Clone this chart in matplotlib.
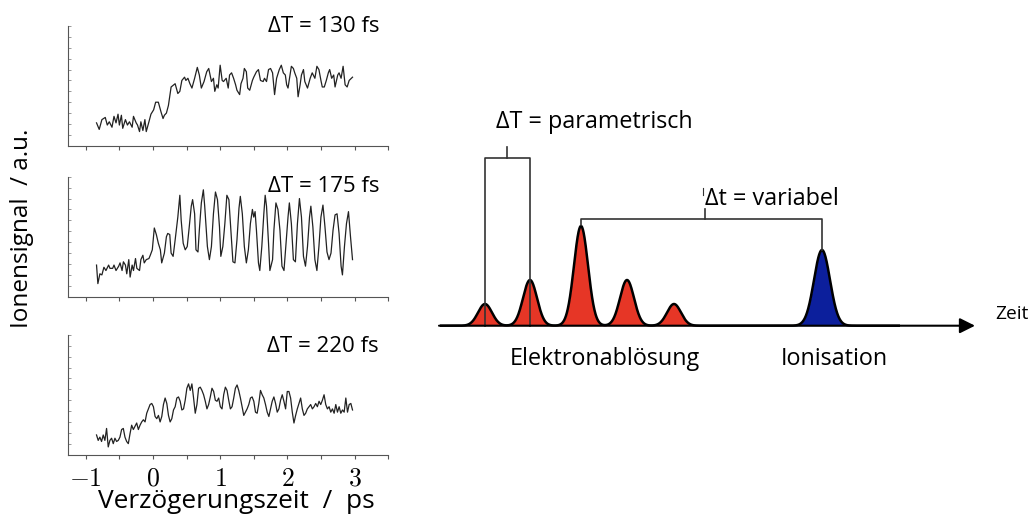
import numpy as np
import matplotlib.pyplot as plt
from matplotlib.ticker import MultipleLocator

plt.rcParams["mathtext.fontset"] = "cm"
TXT_FONT = ["Open Sans", "DejaVu Sans"]

## DATEN: Ionensignal vs. Verzögerungszeit (a.u., 0..11)

# ΔT = 130 fs
t_130 = [-0.84, -0.80, -0.76, -0.71, -0.68, -0.65, -0.61, -0.58, -0.55, -0.52,
         -0.50, -0.47, -0.45, -0.41, -0.38, -0.35, -0.31, -0.29, -0.25, -0.23,
         -0.20, -0.18, -0.15, -0.12, -0.10, -0.06, -0.03, 0.01, 0.04, 0.08,
         0.12, 0.15, 0.17, 0.20, 0.23, 0.27, 0.31, 0.33, 0.37, 0.40,
         0.43, 0.47, 0.49, 0.52, 0.55, 0.58, 0.62, 0.66, 0.69, 0.72,
         0.76, 0.80, 0.83, 0.87, 0.90, 0.92, 0.95, 0.97, 1.00, 1.03,
         1.05, 1.09, 1.12, 1.14, 1.17, 1.20, 1.23, 1.25, 1.29, 1.31,
         1.34, 1.36, 1.39, 1.41, 1.44, 1.48, 1.50, 1.54, 1.57, 1.60,
         1.64, 1.66, 1.69, 1.72, 1.75, 1.78, 1.81, 1.84, 1.88, 1.91,
         1.94, 1.97, 1.99, 2.01, 2.04, 2.06, 2.09, 2.11, 2.14, 2.16,
         2.19, 2.21, 2.24, 2.26, 2.30, 2.34, 2.37, 2.41, 2.44, 2.47,
         2.50, 2.52, 2.55, 2.58, 2.61, 2.63, 2.66, 2.69, 2.71, 2.75,
         2.77, 2.80, 2.83, 2.86, 2.89, 2.92, 2.97]
sig_130 = [2.1, 1.5, 2.4, 2.6, 1.9, 2.2, 1.7, 2.7, 2.1, 2.9,
           1.9, 2.8, 1.6, 2.4, 1.9, 2.2, 1.7, 2.7, 2.1, 1.9,
           1.3, 2.2, 1.4, 2.4, 1.3, 2.2, 2.9, 3.3, 4.0, 4.0,
           3.1, 2.5, 2.8, 3.0, 3.7, 5.4, 5.6, 5.7, 4.8, 5.0,
           6.0, 6.3, 6.0, 6.2, 5.7, 5.3, 6.2, 7.2, 6.5, 5.3,
           5.9, 6.8, 7.1, 5.9, 6.2, 5.0, 5.6, 5.3, 7.4, 6.0,
           5.9, 6.2, 5.3, 6.5, 6.7, 6.2, 5.6, 5.1, 4.7, 5.7,
           6.2, 7.1, 6.8, 5.3, 5.1, 6.0, 6.3, 6.8, 7.0, 6.0,
           5.9, 6.2, 5.9, 7.0, 7.1, 6.7, 4.7, 6.2, 7.0, 7.4,
           6.7, 6.5, 5.6, 5.3, 6.5, 7.3, 7.1, 6.7, 6.2, 4.5,
           5.6, 6.5, 7.0, 5.9, 5.3, 6.2, 6.7, 6.2, 7.3, 7.0,
           6.0, 5.4, 5.4, 6.0, 6.7, 7.0, 6.2, 6.5, 5.4, 6.5,
           6.7, 6.2, 7.3, 5.6, 5.4, 6.0, 6.3]

# ΔT = 175 fs
t_175 = [-0.84, -0.82, -0.79, -0.76, -0.73, -0.70, -0.66, -0.64, -0.60, -0.58,
         -0.55, -0.51, -0.49, -0.46, -0.44, -0.41, -0.39, -0.36, -0.34, -0.31,
         -0.29, -0.26, -0.24, -0.20, -0.18, -0.15, -0.13, -0.10, -0.06, -0.04,
         -0.01, 0.02, 0.05, 0.08, 0.11, 0.13, 0.17, 0.20, 0.22, 0.25,
         0.27, 0.30, 0.33, 0.37, 0.40, 0.42, 0.45, 0.48, 0.51, 0.54,
         0.57, 0.59, 0.62, 0.64, 0.67, 0.69, 0.72, 0.75, 0.77, 0.81,
         0.84, 0.87, 0.90, 0.93, 0.96, 0.99, 1.01, 1.04, 1.07, 1.10,
         1.13, 1.16, 1.19, 1.22, 1.25, 1.28, 1.30, 1.33, 1.36, 1.39,
         1.42, 1.45, 1.48, 1.50, 1.52, 1.54, 1.57, 1.59, 1.62, 1.65,
         1.67, 1.69, 1.72, 1.74, 1.78, 1.80, 1.83, 1.86, 1.89, 1.92,
         1.95, 1.98, 2.01, 2.03, 2.06, 2.09, 2.12, 2.15, 2.18, 2.21,
         2.24, 2.27, 2.30, 2.33, 2.35, 2.38, 2.41, 2.44, 2.47, 2.50,
         2.53, 2.56, 2.59, 2.62, 2.65, 2.68, 2.71, 2.74, 2.77, 2.80,
         2.82, 2.85, 2.88, 2.91, 2.94, 2.97]
sig_175 = [2.9, 1.2, 2.1, 2.0, 2.7, 2.4, 2.9, 2.6, 2.6, 2.9,
           2.4, 2.8, 3.1, 2.4, 3.2, 2.9, 2.1, 3.4, 1.8, 2.9,
           2.4, 3.5, 2.6, 2.4, 3.4, 3.8, 3.1, 3.4, 3.5, 3.8,
           4.3, 6.3, 5.7, 4.9, 4.3, 3.1, 4.0, 5.5, 5.8, 5.7,
           4.0, 3.7, 5.2, 7.3, 9.3, 7.0, 4.9, 4.3, 4.6, 6.4,
           8.3, 8.9, 7.6, 4.3, 4.1, 6.1, 8.6, 9.8, 8.3, 4.6,
           3.4, 4.6, 7.6, 9.6, 8.9, 6.4, 3.7, 4.6, 6.7, 9.3,
           8.9, 6.1, 3.2, 3.1, 5.2, 8.1, 9.2, 7.6, 4.6, 3.1,
           4.3, 6.7, 8.0, 7.3, 7.8, 6.1, 3.1, 2.4, 4.6, 7.6,
           9.3, 8.3, 4.9, 2.4, 3.4, 6.1, 8.6, 8.0, 6.1, 2.8,
           2.4, 4.9, 7.3, 8.6, 6.7, 3.4, 3.2, 6.7, 9.0, 7.3,
           3.7, 2.8, 4.6, 7.3, 8.3, 6.4, 3.4, 2.4, 4.6, 7.3,
           8.4, 6.4, 4.1, 3.4, 4.0, 6.1, 7.5, 7.6, 5.8, 2.8,
           2.0, 4.6, 6.7, 7.8, 5.5, 3.4]

# ΔT = 220 fs (gleichmäßig abgetastet)
sig_220 = [1.8, 1.3, 1.6, 1.2, 1.8, 1.3, 2.4, 0.7, 1.3, 1.5,
           1.0, 1.5, 1.2, 1.3, 1.6, 2.3, 2.4, 1.6, 1.2, 1.0,
           1.9, 2.7, 2.3, 2.6, 2.9, 2.3, 2.7, 3.0, 3.2, 3.0,
           3.8, 4.2, 4.6, 4.7, 4.4, 3.5, 3.3, 3.6, 3.0, 3.5,
           4.6, 5.2, 4.7, 3.6, 3.0, 3.3, 4.1, 4.4, 5.2, 5.3,
           4.9, 4.1, 4.2, 5.0, 6.1, 6.5, 5.9, 6.5, 5.2, 3.8,
           4.6, 6.1, 6.2, 5.9, 5.5, 4.9, 4.2, 4.6, 5.3, 6.1,
           5.8, 5.0, 4.9, 5.2, 4.4, 4.2, 5.5, 6.2, 5.9, 5.0,
           4.2, 4.4, 5.2, 6.1, 6.4, 5.9, 5.2, 4.4, 3.6, 3.9,
           4.2, 4.6, 5.2, 5.3, 4.9, 3.9, 3.8, 4.7, 5.9, 5.5,
           5.2, 4.6, 3.9, 3.5, 4.2, 4.9, 5.3, 4.7, 3.9, 4.2,
           5.0, 5.5, 4.9, 4.2, 5.8, 5.8, 5.2, 3.9, 2.9, 3.6,
           4.2, 4.7, 5.2, 4.2, 3.6, 3.8, 4.2, 4.4, 4.6, 4.2,
           4.4, 4.7, 4.4, 4.9, 4.6, 5.0, 5.5, 4.6, 4.2, 4.4,
           3.9, 4.2, 3.8, 4.6, 3.9, 4.4, 3.8, 4.1, 3.9, 5.2,
           3.9, 4.6, 4.7, 4.1]
t_220 = np.linspace(-0.84, 2.97, len(sig_220))

panel_labels = ["ΔT = 130 fs", "ΔT = 175 fs", "ΔT = 220 fs"]
panel_traces = [(t_130, sig_130), (t_175, sig_175), (t_220, sig_220)]
x_ticks = [-1, 0, 1, 2, 3]
x_tick_labels = ["$-1$", "$0$", "$1$", "$2$", "$3$"]

## DATEN: Pulsschema (willkürliche Zeiteinheiten)
red_centers = [48.5, 53.0, 58.1, 62.7, 67.4]
red_heights = [2.17, 4.57, 9.97, 4.57, 2.17]
red_width = 0.7
ion_center = 82.2
ion_height = 7.57
ion_width = 0.8

fig = plt.figure(figsize=(10.35, 5.21), dpi=100)

# linke Spalte: drei Messkurven
panel_boxes = [[0.066, 0.7203, 0.309, 0.2297],
               [0.066, 0.4305, 0.309, 0.2303],
               [0.066, 0.1276, 0.309, 0.2294]]
label_y = [0.939, 0.631, 0.324]

for i, box in enumerate(panel_boxes):
    ax = fig.add_axes(box)
    tt, ss = panel_traces[i]
    ax.plot(tt, ss, color="#222222", lw=0.9)
    ax.set_xlim(-1.26, 3.50)
    ax.set_ylim(0, 11)
    for side in ["top", "right"]:
        ax.spines[side].set_visible(False)
    for side in ["left", "bottom"]:
        ax.spines[side].set_color("#555555")
        ax.spines[side].set_linewidth(0.8)
    ax.set_xticks(x_ticks)
    ax.xaxis.set_minor_locator(MultipleLocator(0.5))
    ax.yaxis.set_major_locator(MultipleLocator(1))
    ax.set_yticklabels([])
    ax.tick_params(axis="x", which="both", direction="out", length=3,
                   width=0.8, color="#555555")
    ax.tick_params(axis="y", direction="in", length=2, width=0.6,
                   color="#888888")
    if i == 2:
        ax.set_xticklabels(x_tick_labels, fontsize=18.5)
        ax.tick_params(axis="x", pad=5)
    else:
        ax.set_xticklabels([])
    fig.text(379 / 1035, label_y[i], panel_labels[i], ha="right",
             va="baseline", fontsize=16, family=TXT_FONT)

fig.text(0.021, 0.561, "Ionensignal  / a.u.", rotation=90, ha="center",
         va="center", fontsize=17.5, family=TXT_FONT)
fig.text(0.2285, 0.0244, "Verzögerungszeit  /  ps", ha="center",
         va="baseline", fontsize=18.9, family=TXT_FONT)

# rechte Seite: Pulsschema
ax2 = fig.add_axes([430 / 1035, 1 - 380 / 521, 605 / 1035, 280 / 521])
ax2.set_xlim(43, 103.5)
ax2.set_ylim(-5.43, 22.57)
ax2.axis("off")

x = np.linspace(44.0, 90.0, 2000)
red = np.zeros_like(x)
for c, h in zip(red_centers, red_heights):
    red += h * np.exp(-0.5 * ((x - c) / red_width) ** 2)
blue = ion_height * np.exp(-0.5 * ((x - ion_center) / ion_width) ** 2)

ax2.fill_between(x, 0, red, color="#e63626", lw=0)
ax2.fill_between(x, 0, blue, color="#0c1f9c", lw=0)
ax2.plot(x, red + blue, color="black", lw=1.8, solid_capstyle="butt")

# Zeitachse mit Pfeil
ax2.annotate("", xy=(97.5, 0), xytext=(43.9, 0),
             arrowprops=dict(arrowstyle="-|>", color="black", lw=1.5,
                             mutation_scale=23, shrinkA=0, shrinkB=0))
ax2.text(99.5, 0.67, "Zeit", ha="left", va="baseline", fontsize=13.8,
         family=TXT_FONT)

# Klammer ΔT
br_color = "#333333"
b1_top = 16.74
ax2.plot([red_centers[0], red_centers[0], red_centers[1], red_centers[1]],
         [0, b1_top, b1_top, 0], color=br_color, lw=1.2)
b1_mid = (red_centers[0] + red_centers[1]) / 2
ax2.plot([b1_mid, b1_mid], [b1_top, b1_top + 1.1], color=br_color, lw=1.2)
ax2.text(49.6, 19.8, "ΔT = parametrisch", ha="left", va="baseline",
         fontsize=16.8, family=TXT_FONT)

# Klammer Δt
b2_top = 10.67
ax2.plot([red_centers[2], red_centers[2], ion_center, ion_center],
         [red_heights[2] + 0.1, b2_top, b2_top, ion_height],
         color=br_color, lw=1.2)
ax2.plot([70.5, 70.5], [b2_top, b2_top + 1.0], color=br_color, lw=1.2)
ax2.plot([70.3, 70.3], [13.1, 13.8], color=br_color, lw=0.8)
ax2.text(70.5, 12.07, "Δt = variabel", ha="left", va="baseline",
         fontsize=16.8, family=TXT_FONT)

ax2.text(51.0, -3.93, "Elektronablösung", ha="left", va="baseline",
         fontsize=16.8, family=TXT_FONT)
ax2.text(78.1, -3.93, "Ionisation", ha="left", va="baseline",
         fontsize=16.8, family=TXT_FONT)

fig.savefig("out.png", dpi=100)
